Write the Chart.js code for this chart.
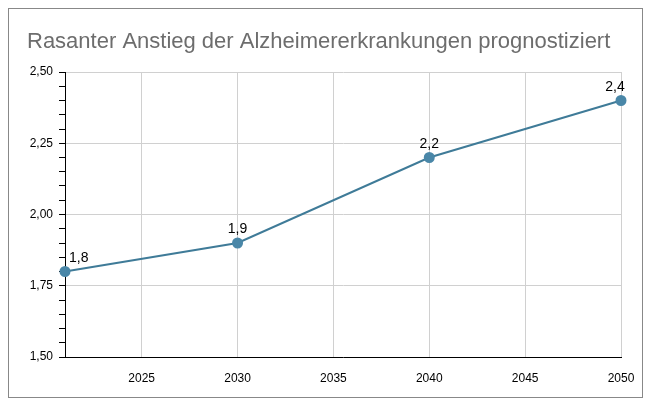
<!DOCTYPE html>
<html>
<head>
<meta charset="utf-8">
<script src="https://cdn.jsdelivr.net/npm/chart.js@4"></script>
<style>
  body { margin: 0; background: #fff; }
  #wrap { position: relative; width: 650px; height: 408px; }
  #frame { position: absolute; left: 8px; top: 8px; width: 633px; height: 388px; border: 1px solid #888; pointer-events: none; }
</style>
</head>
<body>
<div id="wrap">
  <canvas id="chart" width="650" height="408"></canvas>
  <div id="frame"></div>
</div>
<script>
const chartTitle = "Rasanter Anstieg der Alzheimererkrankungen prognostiziert";
const years = [2021, 2030, 2040, 2050];
const values = [1.8, 1.9, 2.2, 2.4];
const xTicks = [2025, 2030, 2035, 2040, 2045, 2050];

const fmt = (v, d) => v.toFixed(d).replace(".", ",");

// Titel und Datenbeschriftungen
const extras = {
  id: "extras",
  afterDraw(chart) {
    const ctx = chart.ctx;
    ctx.save();
    ctx.fillStyle = "#6d6d6d";
    ctx.font = "22px 'Liberation Sans', Arial, sans-serif";
    ctx.textBaseline = "alphabetic";
    ctx.fillText(chartTitle, 27, 48);
    ctx.fillStyle = "#000";
    ctx.font = "14px 'Liberation Sans', Arial, sans-serif";
    chart.getDatasetMeta(0).data.forEach((pt, i) => {
      const label = fmt(values[i], 1);
      if (i === 0) {
        ctx.textAlign = "left";
        ctx.fillText(label, pt.x + 4, pt.y - 10);
      } else {
        ctx.textAlign = "center";
        ctx.fillText(label, pt.x - (i === years.length - 1 ? 6 : 0), pt.y - 10);
      }
    });
    ctx.restore();
  }
};

new Chart(document.getElementById("chart"), {
  type: "line",
  data: {
    datasets: [{
      data: years.map((y, i) => ({ x: y, y: values[i] })),
      borderColor: "#3f7b98",
      backgroundColor: "#4a87a8",
      borderWidth: 2,
      pointRadius: 4.5,
      pointBackgroundColor: "#4a87a8",
      pointBorderColor: "#4a87a8",
      tension: 0,
      clip: false
    }]
  },
  options: {
    responsive: false,
    animation: false,
    layout: { padding: { top: 72, right: 29, left: 0, bottom: 0 } },
    plugins: { legend: { display: false }, tooltip: { enabled: false } },
    scales: {
      x: {
        type: "linear",
        min: 2021,
        max: 2050,
        afterBuildTicks(axis) { axis.ticks = xTicks.map(v => ({ value: v })); },
        afterFit(axis) { axis.height = 51; },
        ticks: { color: "#000", font: { size: 12, family: "'Liberation Sans', Arial" }, maxRotation: 0, padding: 14, callback: v => String(v) },
        grid: { color: "#d0d0d0", tickLength: 0, tickColor: "transparent" },
        border: { color: "#000", width: 1 }
      },
      y: {
        min: 1.5,
        max: 2.5,
        afterFit(axis) { axis.width = 65; },
        ticks: {
          stepSize: 0.05,
          autoSkip: false,
          color: "#000",
          font: { size: 12, family: "'Liberation Sans', Arial" },
          padding: 6,
          callback: v => (Math.abs(v * 4 - Math.round(v * 4)) < 1e-6 ? fmt(v, 2) : "")
        },
        grid: {
          color: c => (c.tick && Math.abs(c.tick.value * 4 - Math.round(c.tick.value * 4)) < 1e-6 ? "#d0d0d0" : "transparent"),
          tickColor: "#000",
          tickLength: 6
        },
        border: { color: "#000", width: 1 }
      }
    }
  },
  plugins: [extras]
});
</script>
</body>
</html>
